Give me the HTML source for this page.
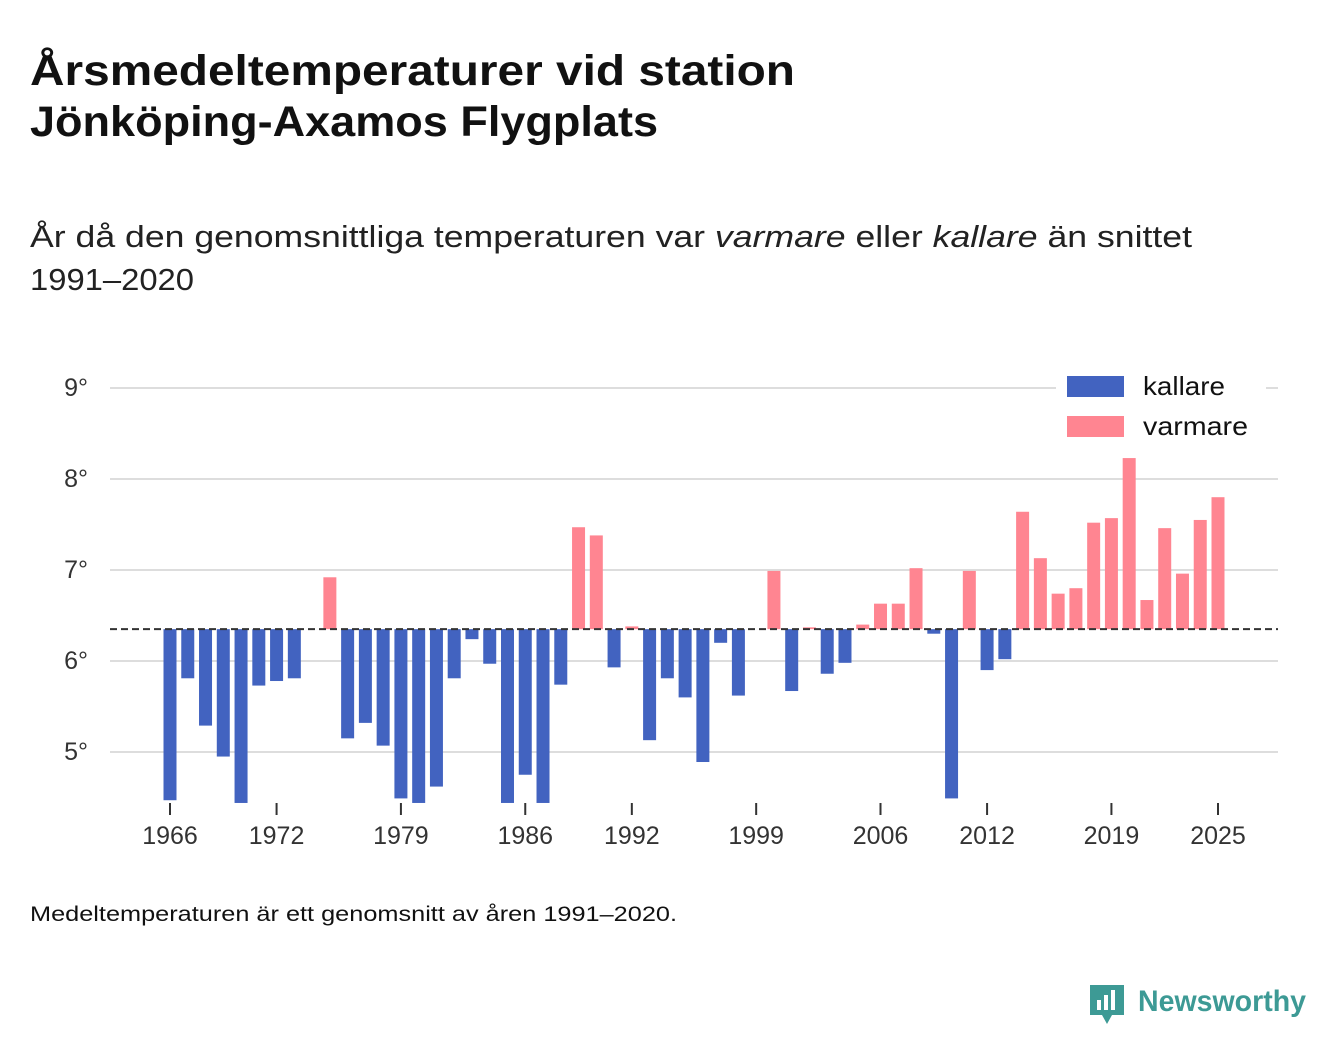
<!DOCTYPE html>
<html><head><meta charset="utf-8"><style>
body{margin:0;background:#fff;font-family:"Liberation Sans",sans-serif;color:#111;}
#wrap{position:relative;width:1340px;height:1056px;overflow:hidden;}
</style></head><body><div id="wrap">
<svg id="chart" width="1340" height="1056" style="position:absolute;left:0;top:0" font-family="Liberation Sans, sans-serif">
<text x="30" y="85" font-size="43" font-weight="bold" fill="#111" textLength="765" lengthAdjust="spacingAndGlyphs">Årsmedeltemperaturer vid station</text>
<text x="30" y="136" font-size="43" font-weight="bold" fill="#111" textLength="628" lengthAdjust="spacingAndGlyphs">Jönköping-Axamos Flygplats</text>
<text x="30" y="247" font-size="31" fill="#222" textLength="1162" lengthAdjust="spacingAndGlyphs">År då den genomsnittliga temperaturen var <tspan font-style="italic">varmare</tspan> eller <tspan font-style="italic">kallare</tspan> än snittet</text>
<text x="30" y="290" font-size="31" fill="#222" textLength="164" lengthAdjust="spacingAndGlyphs">1991–2020</text>
<text x="30" y="921" font-size="21" fill="#111" textLength="647" lengthAdjust="spacingAndGlyphs">Medeltemperaturen är ett genomsnitt av åren 1991–2020.</text>
<g>
<path d="M1090 985h34v30h-12l-5 9-5-9h-12z" fill="#3d9a95"/><rect x="1097" y="1000" width="4" height="10" fill="#fff"/><rect x="1104" y="995" width="4" height="15" fill="#fff"/><rect x="1111" y="990" width="4" height="20" fill="#fff"/>
<text x="1138" y="1011" font-size="30" font-weight="bold" fill="#3d9a95" textLength="168" lengthAdjust="spacingAndGlyphs">Newsworthy</text>
</g>
</svg>
</div>
<script>
const years=[1966,1967,1968,1969,1970,1971,1972,1973,1975,1976,1977,1978,1979,1980,1981,1982,1983,1984,1985,1986,1987,1988,1989,1990,1991,1992,1993,1994,1995,1996,1997,1998,2000,2001,2002,2003,2004,2005,2006,2007,2008,2009,2010,2011,2012,2013,2014,2015,2016,2017,2018,2019,2020,2021,2022,2023,2024,2025];
const temps=[4.47,5.81,5.29,4.95,4.44,5.73,5.78,5.81,6.92,5.15,5.32,5.07,4.49,4.44,4.62,5.81,6.24,5.97,4.44,4.75,4.44,5.74,7.47,7.38,5.93,6.38,5.13,5.81,5.60,4.89,6.2,5.62,6.99,5.67,6.37,5.86,5.98,6.40,6.63,6.63,7.02,6.3,4.49,6.99,5.9,6.02,7.64,7.13,6.74,6.80,7.52,7.57,8.23,6.67,7.46,6.96,7.55,7.80];
const baseline=6.35;
const yTicks=[5,6,7,8,9];
const xTicks=[1966,1972,1979,1986,1992,1999,2006,2012,2019,2025];
const NS="http://www.w3.org/2000/svg",svg=document.getElementById('chart');
const y=v=>661-(v-6)*91, x=yr=>170+(yr-1966)*(1048/59);
function mk(t,a,txt){const e=document.createElementNS(NS,t);for(const k in a)e.setAttribute(k,a[k]);if(txt!==undefined)e.textContent=txt;svg.appendChild(e);return e;}
yTicks.forEach(v=>{
 const g=mk('line',{x1:110,x2:1278,y1:y(v),y2:y(v),stroke:'#ddd','stroke-width':2});
 
 
 const t=mk('text',{x:88,y:y(v)+8,'text-anchor':'end','font-size':25,fill:'#333'},v+'°');
 
 
});
xTicks.forEach(yr=>{
 const l=mk('line',{x1:x(yr),x2:x(yr),y1:803,y2:815,stroke:'#333','stroke-width':2});
 
 
 const t=mk('text',{x:x(yr),y:844,'text-anchor':'middle','font-size':25,fill:'#333'},String(yr));
 
 
});
const lb=mk('rect',{x:1056,y:370,width:210,height:80,fill:'#fff'});


years.forEach((yr,i)=>{
 const v=temps[i],t=Math.min(y(v),y(baseline)),h=Math.abs(y(v)-y(baseline));
 const r=mk('rect',{x:x(yr)-6.5,y:t,width:13,height:Math.max(h,0.5),fill:v>=baseline?'#ff8591':'#4263c0'});
 
 
});
const bl=mk('line',{x1:110,x2:1278,y1:y(baseline),y2:y(baseline),stroke:'#333','stroke-width':2,'stroke-dasharray':'7,4'});


[['kallare','#4263c0',376,82],['varmare','#ff8591',416,105]].forEach(([n,c,yy,w])=>{
 const r=mk('rect',{x:1067,y:yy,width:57,height:21,fill:c});
 
 
 const t=mk('text',{x:1143,y:yy+19,'font-size':26,fill:'#111',textLength:w,lengthAdjust:'spacingAndGlyphs'},n);
 
 
});
</script></body></html>
